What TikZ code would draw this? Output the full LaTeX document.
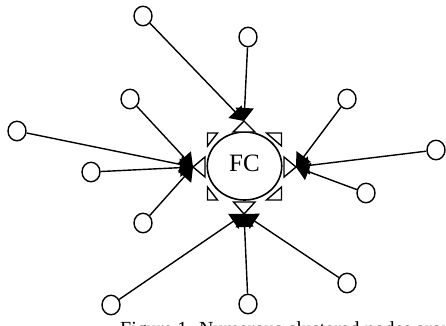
\documentclass[tikz,border=0pt]{standalone}
\usepackage{fontspec}
\setmainfont{Liberation Serif}
\usetikzlibrary{arrows.meta,shapes.geometric}
\tikzset{
  sensor/.style={ellipse,draw,fill=white,line width=1.4pt,minimum width=18pt,minimum height=19.5pt,inner sep=0pt},
  fcnode/.style={ellipse,draw,fill=white,line width=1.6pt,minimum width=74.5pt,minimum height=68pt,inner sep=0pt,text depth=5pt,font=\fontsize{25}{30}\selectfont},
  link/.style={line width=1.4pt,-{Triangle[length=13pt,width=18pt]}},
  port/.style={draw,fill=white,line width=1.4pt,line join=miter},
  handle/.style={draw,fill=white,line width=1.4pt,line join=miter},
  figcaption/.style={anchor=base west,inner sep=0pt,font=\fontsize{20}{24}\selectfont}
}
\begin{document}
\begin{tikzpicture}[x=1pt,y=-1pt]
\useasboundingbox (0,0) rectangle (446,325);
\clip (0,0) rectangle (446,325);

% corner handles of the fusion centre
\draw[handle] (207.5,133) -- (217.5,133) -- (207.5,146) -- cycle;
\draw[handle] (281.5,133) -- (266.5,133) -- (281.5,146) -- cycle;
\draw[handle] (207.5,200) -- (217.5,200) -- (207.5,187) -- cycle;
\draw[handle] (281.5,200) -- (266.5,200) -- (281.5,187) -- cycle;

% fusion centre
\node[fcnode] (fc) at (244.5,166) {FC};

% open triangles (ports)
\coordinate (T) at (244,121);
\coordinate (L) at (193,167);
\coordinate (R) at (296,167);
\coordinate (B) at (244,214);
\draw[port] (T) -- (233,132) -- (255,132) -- cycle;
\draw[port] (L) -- (205,157) -- (205,177) -- cycle;
\draw[port] (R) -- (284,157) -- (284,177) -- cycle;
\draw[port] (B) -- (233.5,202) -- (255,202) -- cycle;

% sensor nodes
\node[sensor] (c1)  at (143,16)  {};
\node[sensor] (c2)  at (248,37)  {};
\node[sensor] (c3)  at (130,99)  {};
\node[sensor] (c4)  at (17,131)  {};
\node[sensor] (c5)  at (91,172)  {};
\node[sensor] (c6)  at (143,223) {};
\node[sensor] (c7)  at (111,305) {};
\node[sensor] (c8)  at (248,304) {};
\node[sensor] (c9)  at (347,283) {};
\node[sensor] (c10) at (366,193) {};
\node[sensor] (c11) at (436,150) {};
\node[sensor] (c12) at (347,99)  {};

% links
\draw[link] (c1) -- (T);
\draw[link] (c2) -- (T);
\draw[link] (c3) -- (L);
\draw[link] (c4) -- (L);
\draw[link] (c5) -- (L);
\draw[link] (c6) -- (L);
\draw[link] (c12) -- (R);
\draw[link] (c11) -- (R);
\draw[link] (c10) -- (R);
\draw[link] (c7) -- (B);
\draw[link] (c8) -- (B);
\draw[link] (c9) -- (B);

% caption (only the top of it lies inside the picture)
\node[figcaption] (cap) at (120,335.5) {Figure 1. Numerous clustered nodes around the fusion center};
\end{tikzpicture}
\end{document}
